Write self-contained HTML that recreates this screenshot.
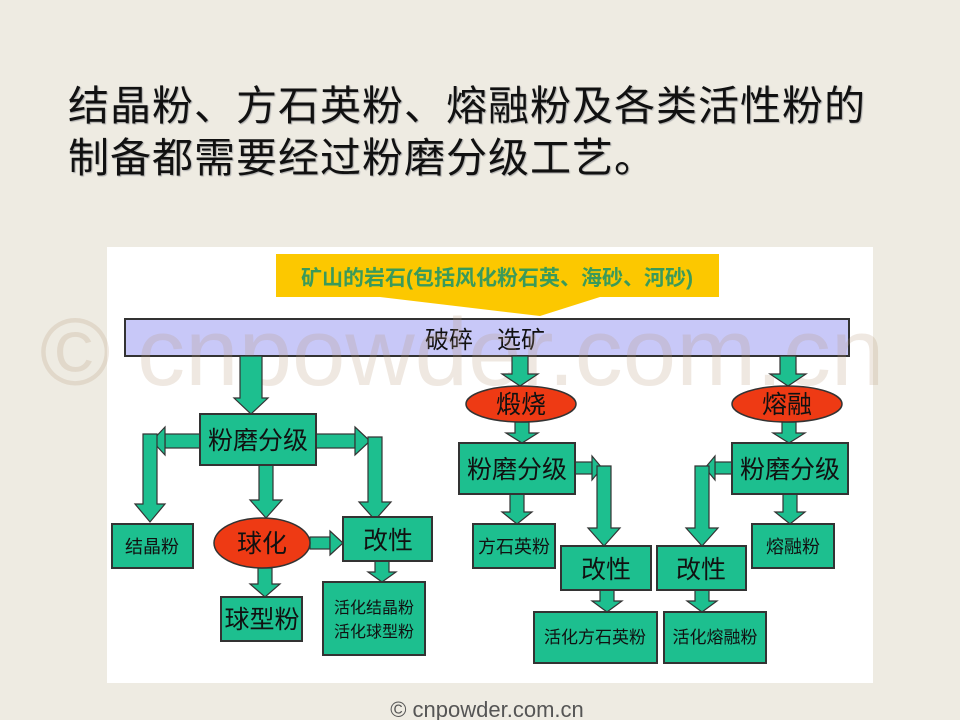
<!DOCTYPE html>
<html><head><meta charset="utf-8">
<style>
body{margin:0;width:960px;height:720px;background:#eeebe2;overflow:hidden;font-family:"Liberation Sans","Noto Sans CJK SC",sans-serif;position:relative}
.t{position:absolute;left:68px;font-size:41px;color:#111;text-shadow:1px 1px 1px #aaa;white-space:nowrap;letter-spacing:1px}
</style></head><body>
<div class="t" style="top:72px">结晶粉、方石英粉、熔融粉及各类活性粉的</div>
<div class="t" style="top:124px">制备都需要经过粉磨分级工艺。</div>
<svg width="960" height="720" style="position:absolute;left:0;top:0" font-family="Liberation Sans, Noto Sans CJK SC, sans-serif">
<rect x="107" y="247" width="766" height="436" fill="#fff"/>
<polygon points="276,254 719,254 719,297 600,297 540,316 380,297 276,297" fill="#fcc800"/>
<text x="497" y="285" font-size="21" font-weight="bold" fill="#3a9a5a" text-anchor="middle">矿山的岩石(包括风化粉石英、海砂、河砂)</text>
<rect x="125" y="319" width="724" height="37" fill="#c8c8f8" stroke="#333" stroke-width="2"/>
<text x="485" y="348" font-size="24" fill="#111" text-anchor="middle">破碎　选矿</text>
<text x="462" y="385" font-size="96" fill="#b49678" fill-opacity="0.22" text-anchor="middle">© cnpowder.com.cn</text>
<g fill="#1dbf8f" stroke="#333" stroke-width="1.2">
<polygon points="240,356 262,356 262,398 268,398 251,414 234,398 240,398"/>
<rect x="165" y="434" width="35" height="14"/><polygon points="165,427 152,441 165,455"/>
<polygon points="143,434 157,434 157,504 165,504 150,522 135,504 143,504"/>
<rect x="316" y="434" width="39" height="14"/><polygon points="355,427 370,441 355,455"/>
<polygon points="368,437 382,437 382,502 391,502 375,520 359,502 368,502"/>
<polygon points="259,465 273,465 273,500 282,500 266,518 250,500 259,500"/>
<rect x="310" y="537" width="20" height="12"/><polygon points="330,531 343,543 330,555"/>
<polygon points="258,568 272,568 272,584 280,584 265,597 250,584 258,584"/>
<polygon points="375,561 389,561 389,572 396,572 382,582 368,572 375,572"/>
<polygon points="512,356 528,356 528,374 538,374 520,386 502,374 512,374"/>
<polygon points="515,422 529,422 529,433 538,433 522,443 506,433 515,433"/>
<polygon points="510,494 524,494 524,512 532,512 517,524 502,512 510,512"/>
<rect x="575" y="462" width="17" height="12"/><polygon points="592,456 602,468 592,480"/>
<polygon points="597,466 611,466 611,528 620,528 604,546 588,528 597,528"/>
<polygon points="600,590 614,590 614,601 622,601 607,612 592,601 600,601"/>
<polygon points="780,356 796,356 796,374 806,374 788,386 770,374 780,374"/>
<polygon points="782,422 796,422 796,433 805,433 789,443 773,433 782,433"/>
<polygon points="783,494 797,494 797,512 805,512 790,524 775,512 783,512"/>
<rect x="715" y="462" width="17" height="12"/><polygon points="715,456 705,468 715,480"/>
<polygon points="695,466 709,466 709,528 718,528 702,546 686,528 695,528"/>
<polygon points="695,590 709,590 709,601 717,601 702,612 687,601 695,601"/>
</g>
<g fill="#1dbf8f" stroke="#333" stroke-width="2">
<rect x="200" y="414" width="116" height="51"/>
<rect x="112" y="524" width="81" height="44"/>
<rect x="343" y="517" width="89" height="44"/>
<rect x="323" y="582" width="102" height="73"/>
<rect x="221" y="597" width="81" height="44"/>
<rect x="459" y="443" width="116" height="51"/>
<rect x="473" y="524" width="82" height="44"/>
<rect x="561" y="546" width="90" height="44"/>
<rect x="534" y="612" width="123" height="51"/>
<rect x="732" y="443" width="116" height="51"/>
<rect x="752" y="524" width="82" height="44"/>
<rect x="657" y="546" width="89" height="44"/>
<rect x="664" y="612" width="102" height="51"/>
</g>
<g fill="#ee3a14" stroke="#333" stroke-width="1.5">
<ellipse cx="262" cy="543" rx="48" ry="25"/>
<ellipse cx="521" cy="404" rx="55" ry="18"/>
<ellipse cx="787" cy="404" rx="55" ry="18"/>
</g>
<g fill="#111" text-anchor="middle">
<text x="258" y="449" font-size="25">粉磨分级</text>
<text x="152" y="553" font-size="18">结晶粉</text>
<text x="388" y="549" font-size="25">改性</text>
<text x="374" y="613" font-size="16">活化结晶粉</text>
<text x="374" y="637" font-size="16">活化球型粉</text>
<text x="262" y="628" font-size="25">球型粉</text>
<text x="262" y="552" font-size="25">球化</text>
<text x="521" y="413" font-size="25">煅烧</text>
<text x="787" y="413" font-size="25">熔融</text>
<text x="517" y="478" font-size="25">粉磨分级</text>
<text x="514" y="553" font-size="18">方石英粉</text>
<text x="606" y="578" font-size="25">改性</text>
<text x="595" y="643" font-size="17">活化方石英粉</text>
<text x="790" y="478" font-size="25">粉磨分级</text>
<text x="793" y="553" font-size="18">熔融粉</text>
<text x="701" y="578" font-size="25">改性</text>
<text x="715" y="643" font-size="17">活化熔融粉</text>
</g>
<text x="487" y="717" font-size="22" fill="#555" text-anchor="middle">© cnpowder.com.cn</text>
</svg>
</body></html>
